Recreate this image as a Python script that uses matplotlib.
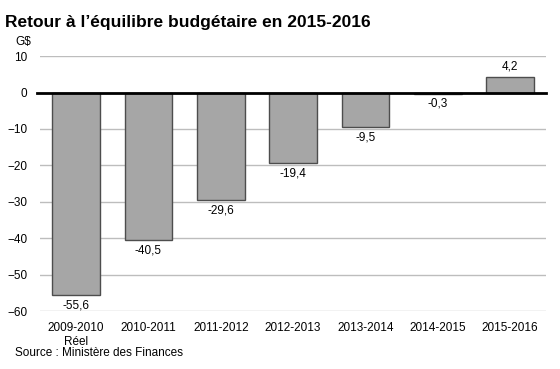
import matplotlib
matplotlib.use("Agg")
import matplotlib.pyplot as plt

plt.rcParams['font.family'] = ['Liberation Sans', 'DejaVu Sans']

annees = ["2009-2010\nRéel", "2010-2011", "2011-2012", "2012-2013",
          "2013-2014", "2014-2015", "2015-2016"]
soldes = [-55.6, -40.5, -29.6, -19.4, -9.5, -0.3, 4.2]
etiquettes = ["-55,6", "-40,5", "-29,6", "-19,4", "-9,5", "-0,3", "4,2"]
graduations = [10, 0, -10, -20, -30, -40, -50, -60]

fig = plt.figure(figsize=(5.6, 3.69), dpi=100)
ax = fig.add_axes([0.0714, 0.157, 0.904, 0.691])

x = list(range(len(annees)))
ax.bar(x, soldes, width=0.66, color="#a6a6a6", edgecolor="#4d4d4d",
       linewidth=1.0, zorder=3)

# Étiquettes des valeurs
for xi, v, t in zip(x, soldes, etiquettes):
    if v < 0:
        ax.text(xi, v - 1.2, t, ha="center", va="top", fontsize=8.5)
    else:
        ax.text(xi, v + 1.2, t, ha="center", va="bottom", fontsize=8.5)

ax.set_ylim(-60, 10)
ax.set_xlim(-0.5, len(annees) - 0.5)
ax.set_yticks(graduations)
ax.set_xticks(x)
ax.set_xticklabels(annees)
ax.tick_params(axis="both", length=0, labelsize=8.5)
ax.tick_params(axis="x", pad=8)
ax.tick_params(axis="y", pad=9)

for g in graduations:
    if g != 0:
        ax.axhline(g, color="#bdbdbd", linewidth=1.0, zorder=1)
ax.axhline(0, color="black", linewidth=2.0, zorder=4, xmin=-0.005, clip_on=False)

for s in ax.spines.values():
    s.set_visible(False)

fig.text(0.009, 0.94, "Retour à l’équilibre budgétaire en 2015-2016",
         fontsize=12.5, fontweight="bold", va="center")
fig.text(0.027, 0.886, "G$", fontsize=8.5, va="center")
fig.text(0.027, 0.043, "Source : Ministère des Finances", fontsize=8.5, va="center")

fig.savefig("out.png", dpi=100)
